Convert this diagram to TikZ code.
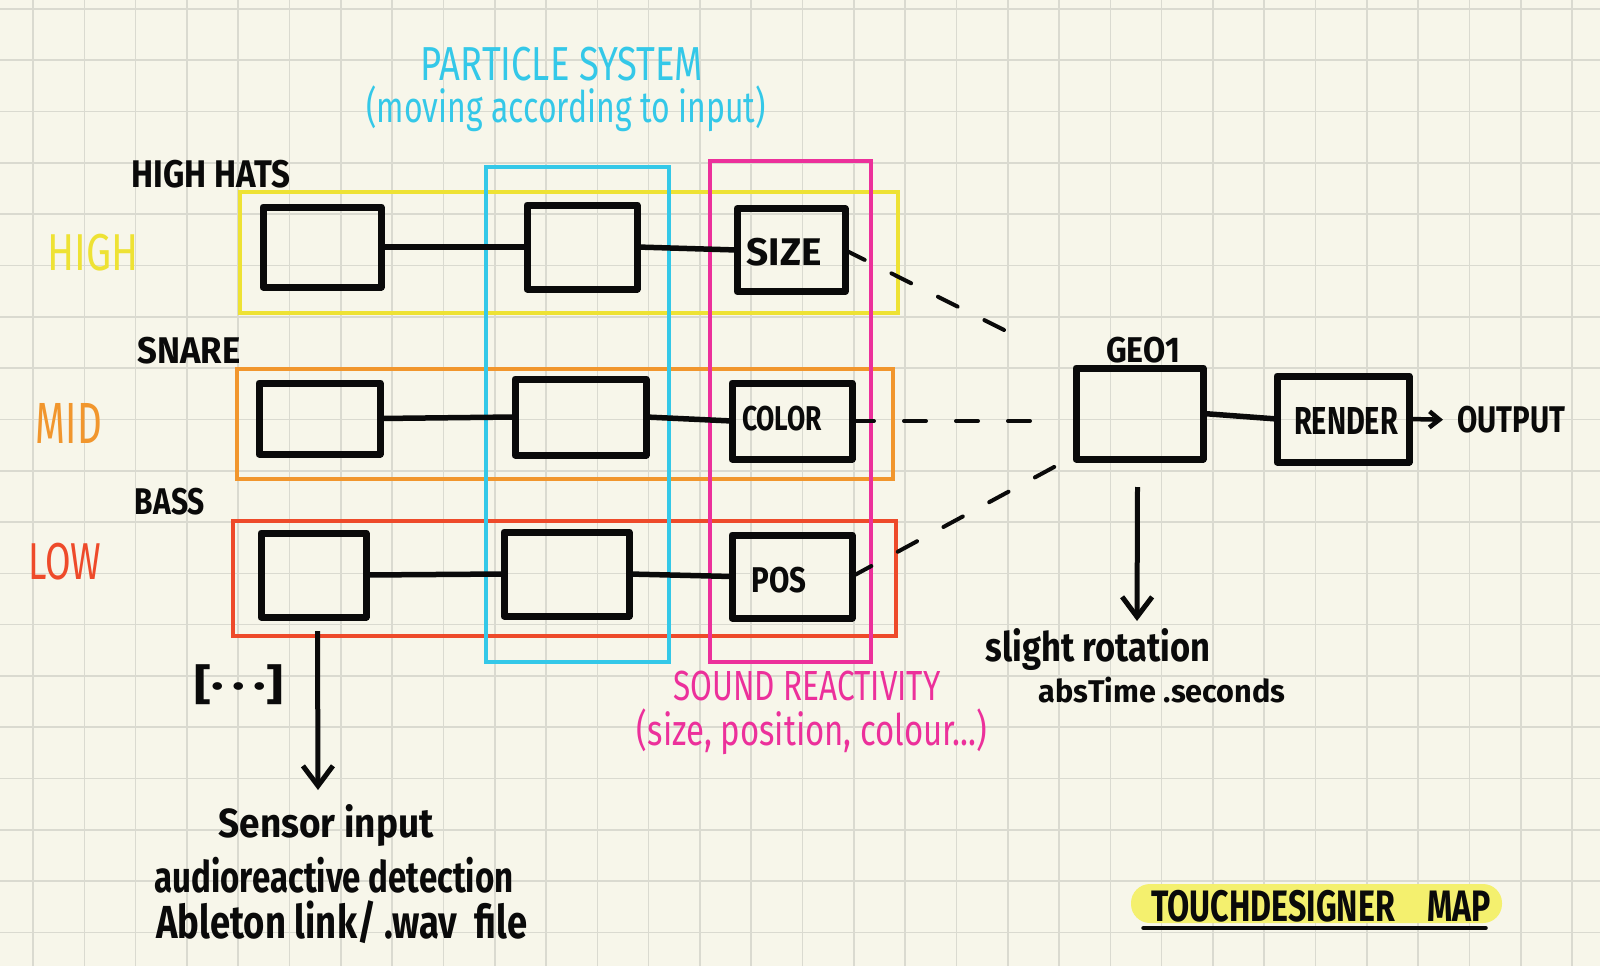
\documentclass[tikz,border=0pt]{standalone}
\usepackage{fontspec}
\setmainfont{Fira Sans}
\usepackage{graphicx}
\usetikzlibrary{arrows.meta}
\definecolor{paper}{RGB}{247,246,234}
\definecolor{gridc}{RGB}{218,218,208}
\definecolor{hyellow}{RGB}{238,226,52}
\definecolor{horange}{RGB}{241,150,45}
\definecolor{hred}{RGB}{238,74,42}
\definecolor{hcyan}{RGB}{52,200,232}
\definecolor{hpink}{RGB}{236,48,155}
\definecolor{hilite}{RGB}{244,240,110}
\definecolor{ink}{RGB}{10,10,10}
\newcommand\fitbox[3]{\resizebox*{#1pt}{#2pt}{#3}}
\tikzset{
  frame/.style={draw=#1, line width=4.5pt, inner sep=0pt, outer sep=0pt},
  opbox/.style={draw=ink, line width=7pt, line join=round, inner sep=0pt, outer sep=0pt},
  lab/.style={inner sep=0pt, outer sep=0pt, text=ink},
  conn/.style={draw=ink, line width=5.5pt, line cap=round},
  dashc/.style={draw=ink, line width=4pt, line cap=round, dash pattern=on 22pt off 30pt},
  arr/.style={draw=ink, line width=5pt, -{Straight Barb[length=20pt, width=30pt]}},
  smallarr/.style={draw=ink, line width=4.5pt, -{Straight Barb[length=10pt, width=16pt]}}
}
\begin{document}
\begin{tikzpicture}[x=1pt,y=-1pt]
\useasboundingbox (0,0) rectangle (1600,966);
\fill[paper] (0,0) rectangle (1600,966);
\foreach \i in {0,...,30} \draw[gridc, line width=1.6pt] ({33+51.3*\i},0) -- ({33+51.3*\i},966);
\foreach \j in {0,...,18} \draw[gridc, line width=1.6pt] (0,{9+51.3*\j}) -- (1600,{9+51.3*\j});

% colour frames
\node[frame=hred, minimum width=663pt, minimum height=115pt] (fLow) at (564.5,578.5) {};
\node[frame=horange, minimum width=656pt, minimum height=110pt] (fMid) at (565,424) {};
\node[frame=hyellow, minimum width=658pt, minimum height=121pt] (fHigh) at (569,252.5) {};
\node[frame=hcyan, minimum width=183pt, minimum height=495pt] (fPart) at (577.5,414.5) {};
\node[frame=hpink, minimum width=161pt, minimum height=501pt] (fSound) at (790.5,411.5) {};

% operator boxes
\node[opbox, minimum width=118pt, minimum height=80pt] (A1) at (322,247) {};
\node[opbox, minimum width=110pt, minimum height=84pt] (B1) at (582,247) {};
\node[opbox, minimum width=108pt, minimum height=83pt] (C1) at (791,250) {};
\node[opbox, minimum width=121pt, minimum height=71pt] (A2) at (319.5,418.5) {};
\node[opbox, minimum width=131pt, minimum height=76pt] (B2) at (580.5,417) {};
\node[opbox, minimum width=120pt, minimum height=76pt] (C2) at (792,421) {};
\node[opbox, minimum width=105pt, minimum height=84pt] (A3) at (313.5,575) {};
\node[opbox, minimum width=125pt, minimum height=84pt] (B3) at (566.5,574) {};
\node[opbox, minimum width=120pt, minimum height=83pt] (C3) at (792,576.5) {};
\node[opbox, minimum width=127pt, minimum height=91pt] (GEO) at (1139.5,413.5) {};
\node[opbox, minimum width=132pt, minimum height=86pt] (REN) at (1343,419) {};

% texts inside boxes
\node[lab] (tSize) at (784,252) {\bfseries\fitbox{75}{28}{SIZE}};
\node[lab] (tColor) at (782,419) {\bfseries\fitbox{80}{25}{COLOR}};
\node[lab] (tPos) at (779,580) {\bfseries\fitbox{55}{26}{POS}};
\node[lab] (tRender) at (1346,421) {\bfseries\fitbox{104}{27}{RENDER}};

% row connectors
\draw[conn] (A1.east) -- (B1.west);
\draw[conn] (B1.east) -- (C1.west);
\draw[conn] (A2.east) -- (B2.west);
\draw[conn] (B2.east) -- (C2.west);
\draw[conn] (A3.east) -- (B3.west);
\draw[conn] (B3.east) -- (C3.west);
\draw[conn] (GEO.east) -- (REN.west);

% dashed links to GEO1
\coordinate (d1) at (1020,338);
\coordinate (d2) at (1036,421);
\coordinate (d3) at (1067,460);
\draw[dashc] (C1.east) -- (d1);
\draw[dashc] (C2.east) -- (d2);
\draw[dashc] (C3.east) -- (d3);

% labels
\node[lab, text=hcyan] (tPS) at (562,64) {\fitbox{282}{34}{PARTICLE SYSTEM}};
\node[lab, text=hcyan] (tPS2) at (566,109) {\fitbox{399}{46}{(moving according to input)}};
\node[lab] (tHH) at (211,174) {\bfseries\fitbox{159}{28}{HIGH HATS}};
\node[lab, text=hyellow] (tHigh) at (93,253) {\fitbox{91}{37}{HIGH}};
\node[lab] (tSnare) at (189,351) {\bfseries\fitbox{103}{27}{SNARE}};
\node[lab, text=horange] (tMid) at (69,423) {\fitbox{66}{40}{MID}};
\node[lab] (tBass) at (170,502) {\bfseries\fitbox{70}{27}{BASS}};
\node[lab, text=hred] (tLow) at (65,562) {\fitbox{73}{37}{LOW}};
\node[lab] (tGeo) at (1143,350) {\bfseries\fitbox{74}{26}{GEO1}};
\node[lab] (tOut) at (1511,420) {\bfseries\fitbox{108}{27}{OUTPUT}};
\node[lab] (tRot) at (1098,650) {\bfseries\fitbox{225}{42}{slight rotation}};
\node[lab] (tAbs) at (1162,690) {\bfseries\fitbox{247}{26}{absTime .seconds}};
\node[lab] (tDots) at (239,685) {\bfseries\fitbox{89}{40}{[·\,·\,·]}};
\node[lab] (tSens1) at (326,826) {\bfseries\fitbox{215}{42}{Sensor input}};
\node[lab] (tSens2) at (334,875) {\bfseries\fitbox{359}{36}{audioreactive detection}};
\node[lab] (tSens3) at (342,922) {\bfseries\fitbox{371}{43}{Ableton link/ .wav~~file}};
\node[lab, text=hpink] (tSR) at (807,686) {\fitbox{267}{30}{SOUND REACTIVITY}};
\node[lab, text=hpink] (tSR2) at (812,732) {\fitbox{350}{46}{(size, position, colour...)}};

% arrows
\coordinate (sIn) at (318,790);
\draw[arr] ([xshift=4pt,yshift=-14pt]A3.south) -- (sIn);
\draw[arr, shorten >=8pt] ([xshift=-2pt,yshift=-28pt]GEO.south) -- (tRot.north -| 1137,0);
\draw[smallarr, shorten >=14pt] (REN.east) -- (tOut.west);

% title
\node[fill=hilite, rounded corners=19pt, minimum width=371pt, minimum height=39pt, inner sep=0pt] (title) at (1316.5,903.5) {};
\node[lab] (tTitle) at (1321,906) {\bfseries\fitbox{339}{32}{TOUCHDESIGNER\quad MAP}};
\draw[draw=ink, line width=4.5pt, line cap=round] ([xshift=-8pt,yshift=-6pt]tTitle.south west) -- ([xshift=-5pt,yshift=-6pt]tTitle.south east);
\end{tikzpicture}
\end{document}
